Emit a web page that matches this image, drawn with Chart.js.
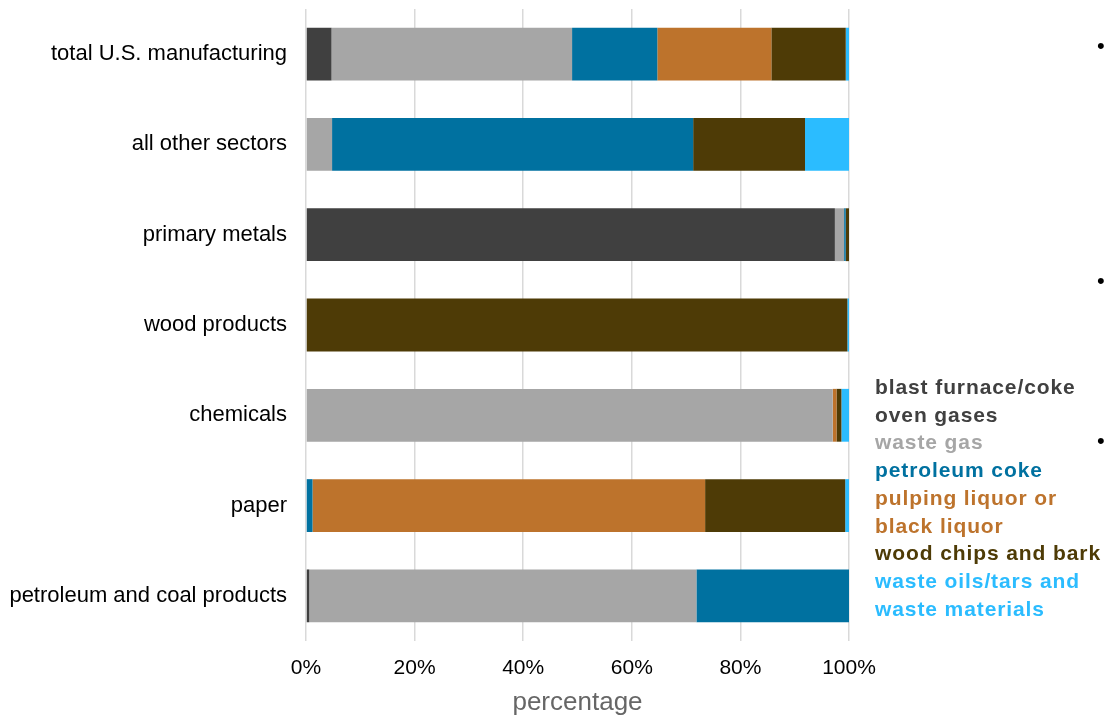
<!DOCTYPE html>
<html>
<head>
<meta charset="utf-8">
<script src="https://cdn.jsdelivr.net/npm/chart.js@4.4.1/dist/chart.umd.min.js"></script>
<style>
  html, body { margin: 0; padding: 0; background: #fff; }
  #wrap { position: relative; width: 1105px; height: 718px; overflow: hidden; }
  #legendBox {
    position: absolute; left: 875px; top: 373px;
    font-family: "Liberation Sans", Arial, sans-serif;
    font-weight: bold; font-size: 21px; line-height: 27.7px;
    letter-spacing: 0.9px; white-space: nowrap;
  }
  .bullet {
    position: absolute; left: 1097px; font-size: 22px; color: #000;
    font-family: "Liberation Sans", Arial, sans-serif; line-height: 22px;
  }
</style>
</head>
<body>
<div id="wrap">
  <canvas id="myChart" width="1105" height="718"></canvas>
  <div id="legendBox"></div>
  <div class="bullet" style="top:35px">•</div>
  <div class="bullet" style="top:270px">•</div>
  <div class="bullet" style="top:430px">•</div>
</div>
<script>
// categories (top to bottom)
var sectores = ["total U.S. manufacturing", "all other sectors", "primary metals",
  "wood products", "chemicals", "paper", "petroleum and coal products"];

// shares in percent, one array per fuel
var blastFurnace = [4.7, 0, 97.4, 0, 0, 0, 0.6];
var wasteGas     = [44.3, 4.8, 1.7, 0, 97.0, 0, 71.3];
var petCoke      = [15.7, 66.5, 0.3, 0, 0, 1.2, 28.1];
var pulping      = [21.0, 0, 0, 0, 0.7, 72.3, 0];
var woodChips    = [13.7, 20.6, 0.6, 99.7, 0.9, 25.8, 0];
var wasteOils    = [0.6, 8.1, 0, 0.3, 1.4, 0.7, 0];

var xTicks = [0, 20, 40, 60, 80, 100];

// legend lines (label split as in the picture)
var leyenda = [
  { lines: ["blast furnace/coke", "oven gases"], color: "#404040" },
  { lines: ["waste gas"], color: "#a6a6a6" },
  { lines: ["petroleum coke"], color: "#0071a0" },
  { lines: ["pulping liquor or", "black liquor"], color: "#bd732c" },
  { lines: ["wood chips and bark"], color: "#4e3b06" },
  { lines: ["waste oils/tars and", "waste materials"], color: "#2bbcff" }
];

var series = [blastFurnace, wasteGas, petCoke, pulping, woodChips, wasteOils];
var nombres = ["blast furnace/coke oven gases", "waste gas", "petroleum coke",
  "pulping liquor or black liquor", "wood chips and bark", "waste oils/tars and waste materials"];

var datasets = [];
for (var i = 0; i < series.length; i++) {
  datasets.push({
    label: nombres[i],
    data: series[i],
    backgroundColor: leyenda[i].color,
    borderWidth: 0,
    barPercentage: 0.585,
    categoryPercentage: 1
  });
}

// html legend
var html = "";
leyenda.forEach(function (l) {
  l.lines.forEach(function (t) {
    html += '<div style="color:' + l.color + '">' + t + '</div>';
  });
});
document.getElementById("legendBox").innerHTML = html;

Chart.defaults.font.family = "'Liberation Sans', Arial, sans-serif";

var ctx = document.getElementById("myChart").getContext("2d");
var chart = new Chart(ctx, {
  type: "bar",
  data: { labels: sectores, datasets: datasets },
  options: {
    indexAxis: "y",
    responsive: false,
    animation: false,
    layout: { padding: { top: 9, right: 256, bottom: 0, left: 0 } },
    plugins: { legend: { display: false }, tooltip: { enabled: false } },
    scales: {
      x: {
        stacked: true,
        min: 0, max: 100,
        afterBuildTicks: function (scale) {
          scale.ticks = xTicks.map(function (v) { return { value: v }; });
        },
        grid: { color: "#d9d9d9", lineWidth: 1.5, drawTicks: false },
        border: { display: false },
        ticks: {
          padding: 15, color: "#000", font: { size: 21 },
          callback: function (v) { return v + "%"; }
        },
        title: {
          display: true, text: "percentage", color: "#666666",
          font: { size: 26 }, padding: { top: 7, bottom: 0 }
        },
        afterFit: function (scale) { scale.height = 77; }
      },
      y: {
        stacked: true,
        grid: { display: false, drawTicks: false },
        border: { display: false },
        ticks: { padding: 19, color: "#000", font: { size: 22 } },
        afterFit: function (scale) {
          scale.width = 306;
          scale.paddingTop = 0;
          scale.paddingBottom = 0;
        }
      }
    }
  }
});
</script>
</body>
</html>
